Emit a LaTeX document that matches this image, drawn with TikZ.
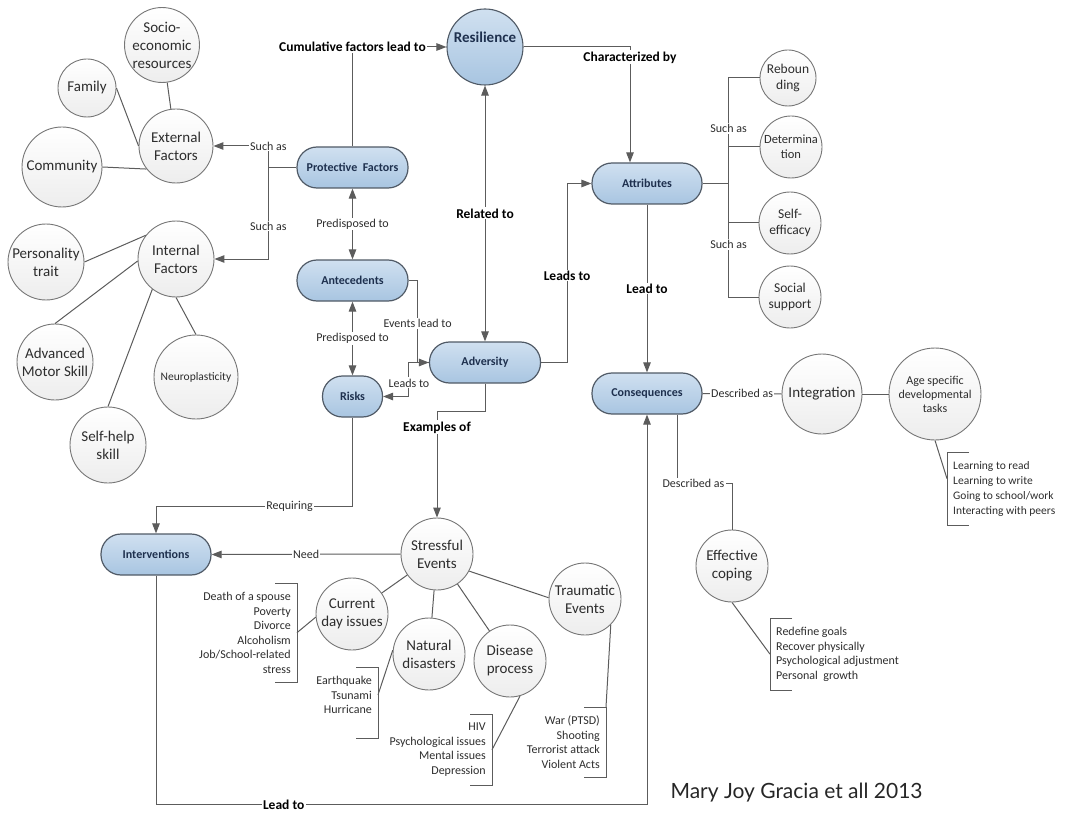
\documentclass[tikz,border=0pt]{standalone}
\usepackage{fontspec}
\setmainfont{Carlito}
\newfontfamily\signfont{Lato}
\usepackage{tikz}
\usetikzlibrary{shapes,arrows.meta}
\usetikzlibrary{positioning}
\usepackage{xcolor}
\definecolor{boxtop}{RGB}{208,224,240}
\definecolor{boxbot}{RGB}{168,197,225}
\definecolor{boxedge}{RGB}{80,90,102}
\definecolor{boxtext}{RGB}{30,48,78}
\definecolor{wire}{RGB}{92,92,92}
\definecolor{ringedge}{RGB}{118,118,118}
\definecolor{ringtext}{RGB}{45,45,45}
\tikzstyle{box} = [rectangle, rounded corners=20pt, minimum width=111pt, minimum height=41pt,text centered, draw=boxedge,
     line width=1.2pt, top color=boxtop, bottom color=boxbot, text=boxtext, font=\fontsize{12}{14}\selectfont\bfseries]
\tikzstyle{bubble} = [circle, inner sep=0pt, align=center, draw=ringedge, line width=0.9pt,
     top color=white, bottom color=black!7, text=ringtext, font=\fontsize{15}{18}\selectfont]
\tikzstyle{lbl} = [fill=white, inner sep=1.2pt, text=ringtext, font=\fontsize{12}{14}\selectfont]
\tikzstyle{blbl} = [lbl, text=black, font=\fontsize{13.5}{16}\selectfont\bfseries]
\tikzstyle{link} = [draw=wire, line width=1pt]
\tikzstyle{line} = [link, -{Triangle[length=10pt,width=7.5pt]}]
\tikzstyle{dline} = [link, {Triangle[length=10pt,width=7.5pt]}-{Triangle[length=10pt,width=7.5pt]}]
\tikzstyle{itemlist} = [inner xsep=6pt, inner ysep=9pt, text=ringtext, font=\fontsize{12}{14.5}\selectfont]
\newcommand{\rlistbrace}[2][0pt]{\draw[link] ([xshift=-22pt]#2.north east) -- (#2.north east)
  -- ([yshift=-#1]#2.south east) -- ++(-22,0);}
\newcommand{\llistbrace}[1]{\draw[link] ([xshift=22pt]#1.north west) -- (#1.north west)
  -- (#1.south west) -- ++(22,0);}
\begin{document}
\begin{tikzpicture}[x=1pt,y=-1pt]
\useasboundingbox (0,0) rectangle (1071,813);

% main boxes
\node (protective) [box] at (352.5,167.5) {Protective\ \ Factors};
\node (antecedents) [box, node distance=113pt, below of=protective] {Antecedents};
\node (risks) [box, minimum width=60pt, node distance=116pt, below of=antecedents] {Risks};
\node (resilience) [bubble, minimum size=76pt, top color=boxtop, bottom color=boxbot, draw=boxedge, line width=1.1pt,
  label={[font=\fontsize{15}{18}\selectfont\bfseries, text=boxtext, yshift=10pt]center:Resilience}] at (485,47) {};
\node (adversity) [box, node distance=315.5pt, below of=resilience] {Adversity};
\node (attributes) [box, minimum width=110pt] at (647,183.5) {Attributes};
\node (consequences) [box, minimum width=110pt, node distance=210pt, below of=attributes] {Consequences};
\node (interventions) [box, minimum width=110pt] at (156,554.5) {Interventions};

% protective factors side
\node (socio) [bubble, minimum size=70pt] at (162,45) {Socio-\\economic\\resources};
\node (family) [bubble, minimum size=58pt] at (87,88) {Family};
\node (external) [bubble, minimum size=74pt] at (176,146) {External\\Factors};
\node (community) [bubble, minimum size=80pt] at (62,167) {Community};
\node (internal) [bubble, minimum size=76pt] at (176,259) {Internal\\Factors};
\node (personality) [bubble, minimum size=76pt] at (46,262) {Personality\\trait};
\node (motor) [bubble, minimum size=76pt] at (55,362) {Advanced\\Motor Skill};
\node (neuro) [bubble, minimum size=84pt, font=\fontsize{11.5}{14}\selectfont] at (196,377) {Neuroplasticity};
\node (selfhelp) [bubble, minimum size=76pt] at (108,445) {Self-help\\skill};

% attributes side
\node (rebound) [bubble, minimum size=56pt, font=\fontsize{13.5}{16}\selectfont] at (788,78) {Reboun\\ding};
\node (determination) [bubble, minimum size=62pt, font=\fontsize{12.5}{15}\selectfont] at (791,147) {Determina\\tion};
\node (efficacy) [bubble, minimum size=62pt, font=\fontsize{13.5}{16}\selectfont] at (790,223) {Self-\\efficacy};
\node (social) [bubble, minimum size=62pt, font=\fontsize{13.5}{16}\selectfont] at (790,297) {Social\\support};
\node (integration) [bubble, minimum size=80pt] at (822,394) {Integration};
\node (agetasks) [bubble, minimum size=92pt, font=\fontsize{12}{14}\selectfont] at (935,394) {Age specific\\developmental\\tasks};
\node (coping) [bubble, minimum size=72pt] at (732,566) {Effective\\coping};

% stressful events
\node (stressful) [bubble, minimum size=72pt] at (437,554) {Stressful\\Events};
\node (current) [bubble, minimum size=72pt] at (352,614) {Current\\day issues};
\node (natural) [bubble, minimum size=72pt] at (429,654) {Natural\\disasters};
\node (disease) [bubble, minimum size=72pt] at (510,661) {Disease\\process};
\node (trauma) [bubble, minimum size=72pt] at (585,599) {Traumatic\\Events};

% lists
\node (currentlist) [itemlist, align=right, anchor=north east] at (297,583) {Death of a spouse\\Poverty\\Divorce\\Alcoholism\\Job/School-related\\stress};
\node (naturallist) [itemlist, align=right, anchor=north east] at (378,667) {Earthquake\\Tsunami\\Hurricane};
\node (diseaselist) [itemlist, align=right, anchor=north east] at (492,714) {HIV\\Psychological issues\\Mental issues\\Depression};
\node (traumalist) [itemlist, align=right, anchor=north east] at (606,707) {War (PTSD)\\Shooting\\Terrorist attack\\Violent Acts};
\node (agelist) [itemlist, align=left, anchor=north west, font=\fontsize{11.5}{15}\selectfont] at (947,452) {Learning to read\\Learning to write\\Going to school/work\\Interacting with peers};
\node (copelist) [itemlist, align=left, anchor=north west] at (770,618) {Redefine goals\\Recover physically\\Psychological adjustment\\Personal\ \ growth};

\node (credit) [anchor=west, text=black!85, font=\signfont\fontsize{21}{24}\selectfont] at (667,793) {Mary Joy Gracia et all 2013};

% connectors
\path[line] (protective.north) |- node[blbl]{Cumulative factors lead to} (resilience.west);
\path[line] (protective.west) -- ++(-28,0) |- node[lbl]{Such as} (external.east);
\path[line] (protective.west) -- ++(-28,0) |- node[lbl, pos=0.32]{Such as} (internal.east);
\path[dline] (protective.south) -- node[lbl]{Predisposed to} (antecedents.north);
\path[dline] (antecedents.south) -- node[lbl]{Predisposed to} (risks.north);
\path[line] (antecedents.east) -- ++(9,0) |- node[lbl, pos=0.26]{Events lead to} (adversity.west);
\path[line] (adversity.west) -- ++(-20,0) |- node[lbl, pos=0.3]{Leads to} (risks.east);
\path[dline] (resilience.south) -- node[blbl]{Related to} (adversity.north);
\path[line] (adversity.east) -- ++(26,0) |- node[blbl, pos=0.243]{Leads to} (attributes.west);
\path[line] (resilience.east) -| node[blbl, pos=0.545]{Characterized by} ([xshift=-17pt]attributes.north);

\coordinate (spine) at ([xshift=26pt]attributes.east);
\draw[link] (attributes.east) -- (spine);
\draw[link] (spine) |- node[lbl, pos=0.26]{Such as} (rebound.west);
\draw[link] (spine) |- (determination.west);
\draw[link] (spine) |- (efficacy.west);
\draw[link] (spine) |- node[lbl, pos=0.27]{Such as} (social.west);

\path[line] (attributes.south) -- node[blbl]{Lead to} (consequences.north);
\draw[link] (consequences.east) -- node[lbl]{Described as} (integration.west);
\draw[link] (integration.east) -- (agetasks.west);
\draw[link] (agetasks.south) -- ([yshift=10pt]agelist.west);
\draw[link] ([xshift=30pt]consequences.south) -- ++(0,69) -| node[lbl, pos=0.15]{Described as} (coping.north);
\draw[link] (coping.south) -- (copelist.west);

\path[line] (adversity.south) -- ++(0,28) -| node[blbl, pos=0.575]{Examples of} (stressful.north);
\path[line] (stressful.west) -- node[lbl]{Need} (interventions.east);
\path[line] (risks.south) -- ++(0,89) -| node[lbl, pos=0.16]{Requiring} (interventions.north);
\path[line] (interventions.south) -- ++(0,229) -| node[blbl, pos=0.13]{Lead to} (consequences.south);

% circle links
\draw[link] (socio) -- (external);
\draw[link] (family.east) -- (external.west);
\draw[link] (community.east) -- (external.218);
\draw[link] (personality.east) -- (internal.142);
\draw[link] (motor.north) -- (internal.183);
\draw[link] (neuro.north) -- (internal.south);
\draw[link] (selfhelp.north) -- (internal.232);
\draw[link] (stressful) -- (current);
\draw[link] (stressful) -- (natural);
\draw[link] (stressful) -- (disease);
\draw[link] (stressful.-28) -- (trauma.178);

% list braces
\rlistbrace{currentlist}
\draw[link] (currentlist.east) -- (current.185);
\rlistbrace[16pt]{naturallist}
\draw[link] (naturallist.east) -- (natural.174);
\rlistbrace{diseaselist}
\draw[link] (diseaselist.east) -- (disease.-74);
\rlistbrace{traumalist}
\draw[link] (traumalist.north east) -- (trauma.-45);
\llistbrace{agelist}
\llistbrace{copelist}

\end{tikzpicture}
\end{document}
